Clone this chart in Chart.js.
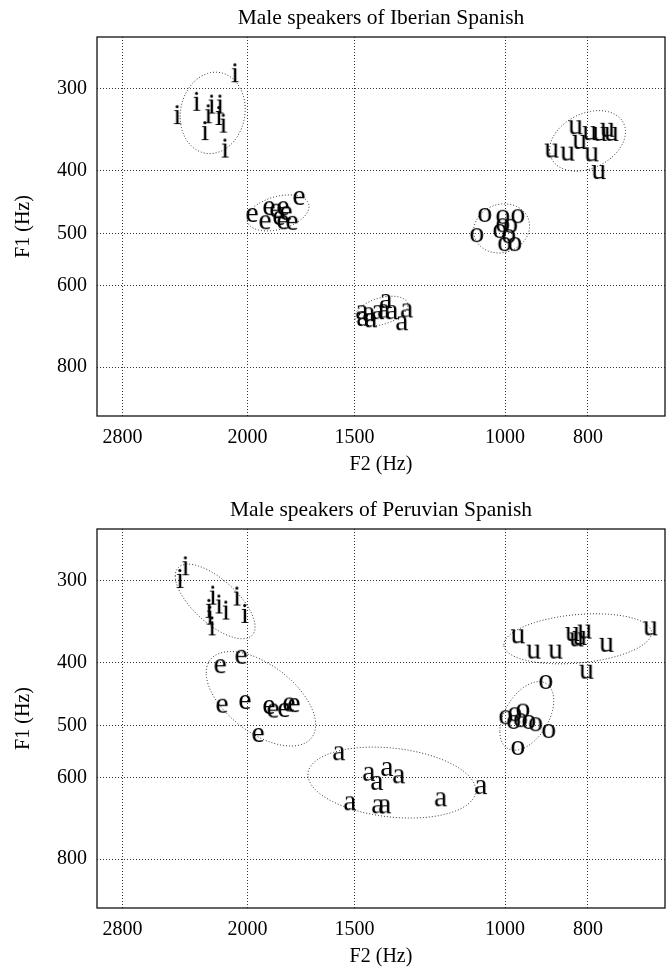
<!DOCTYPE html>
<html>
<head>
<meta charset="utf-8">
<script src="https://cdn.jsdelivr.net/npm/chart.js@4.4.1/dist/chart.umd.min.js"></script>
<style>
    html, body { margin: 0; padding: 0; background: #fff; }
    .panel { position: absolute; left: 0; width: 667px; height: 477px; }
    #top { top: 0; }
    #bottom { top: 492px; }
</style>
</head>
<body>
<div class="panel" id="top"><canvas id="iberian" width="667" height="477"></canvas></div>
<div class="panel" id="bottom"><canvas id="peruvian" width="667" height="477"></canvas></div>
<script>
const vowels = ['i', 'e', 'a', 'o', 'u'];
const f2Ticks = [2800, 2000, 1500, 1000, 800];
const f1Ticks = [300, 400, 500, 600, 800];

// Iberian Spanish (Hz)
const ibF2_i = [2068, 2293, 2416, 2202, 2153, 2222, 2160, 2134, 2242, 2124];
const ibF1_i = [283, 313, 328, 316, 316, 327, 329, 338, 347, 369];
const ibF2_e = [1976, 1888, 1908, 1818, 1838, 1803, 1818, 1774, 1741, 1853];
const ibF1_e = [463, 452, 475, 452, 468, 460, 475, 476, 436, 456];
const ibF2_a = [1470, 1466, 1435, 1408, 1378, 1386, 1356, 1303, 1320, 1443];
const ibF1_a = [652, 668, 671, 652, 627, 650, 652, 648, 678, 657];
const ibF2_o = [1056, 1079, 1006, 966, 1014, 985, 990, 1001, 974, 1006];
const ibF1_o = [463, 497, 466, 465, 490, 481, 499, 513, 513, 480];
const ibF2_u = [827, 882, 845, 818, 796, 775, 759, 751, 792, 777];
const ibF1_u = [340, 369, 373, 358, 347, 348, 343, 348, 374, 398];

// Peruvian Spanish (Hz)
const peF2_i = [2363, 2398, 2195, 2159, 2218, 2119, 2200, 2057, 2014, 2212];
const peF1_i = [284, 297, 315, 325, 330, 332, 351, 316, 336, 338];
const peF2_e = [2153, 2035, 2142, 2014, 1888, 1867, 1813, 1765, 1789, 1944];
const peF1_e = [401, 388, 461, 455, 463, 469, 468, 460, 459, 511];
const peF2_a = [1564, 1443, 1412, 1374, 1331, 1518, 1408, 1382, 1189, 1067];
const peF1_a = [545, 586, 605, 576, 591, 650, 657, 657, 641, 614];
const peF2_o = [896, 998, 974, 953, 959, 938, 921, 889, 966, 977];
const peF1_o = [424, 480, 475, 469, 485, 488, 492, 504, 535, 488];
const peF2_u = [966, 926, 873, 834, 825, 807, 818, 761, 676, 803];
const peF1_u = [361, 381, 381, 358, 365, 355, 363, 372, 351, 409];

// vowel ellipses: F2 range, F1 range, correlation of log F2 / log F1 (order i e a o u)
const ibEllF2lo = [2013, 1695, 1299, 936, 723];
const ibEllF2hi = [2398, 2003, 1498, 1088, 887];
const ibEllF1lo = [283, 436, 623, 450, 324];
const ibEllF1hi = [377, 495, 692, 535, 401];
const ibEllCorr = [0.09, 0.35, 0.4, 0.1, 0.3];

const peEllF2lo = [1960, 1665, 1082, 877, 674];
const peEllF2hi = [2430, 2236, 1700, 1014, 1003];
const peEllF1lo = [283, 385, 539, 428, 337];
const peEllF1hi = [368, 537, 692, 545, 402];
const peEllCorr = [-0.68, -0.55, -0.22, 0.45, 0.24];

const serif = '"Liberation Serif", "Times New Roman", serif';

function letterImage(ch) {
    const c = document.createElement('canvas');
    c.width = 44;
    c.height = 48;
    const g = c.getContext('2d');
    g.font = '30px ' + serif;
    g.fillStyle = '#000';
    g.textAlign = 'center';
    g.textBaseline = 'alphabetic';
    g.fillText(ch, 22, 24 + 10);
    return c;
}
const letters = {};
vowels.forEach(v => letters[v] = letterImage(v));

const ellipsePlugin = {
    id: 'ellipses',
    beforeDatasetsDraw(chart, args, opts) {
        const {ctx, scales: {x, y}} = chart;
        const e = opts.sets;
        ctx.save();
        ctx.strokeStyle = '#333';
        ctx.lineWidth = 1;
        ctx.setLineDash([1, 2]);
        for (let k = 0; k < e.f2lo.length; k++) {
            const c2 = (Math.log(e.f2lo[k]) + Math.log(e.f2hi[k])) / 2;
            const h2 = (Math.log(e.f2hi[k]) - Math.log(e.f2lo[k])) / 2;
            const c1 = (Math.log(e.f1lo[k]) + Math.log(e.f1hi[k])) / 2;
            const h1 = (Math.log(e.f1hi[k]) - Math.log(e.f1lo[k])) / 2;
            const phi = Math.acos(e.corr[k]);
            ctx.beginPath();
            for (let s = 0; s <= 160; s++) {
                const t = s / 160 * Math.PI * 2;
                const px = x.getPixelForValue(Math.exp(c2 + h2 * Math.cos(t)));
                const py = y.getPixelForValue(Math.exp(c1 + h1 * Math.cos(t + phi)));
                if (s === 0) ctx.moveTo(px, py); else ctx.lineTo(px, py);
            }
            ctx.stroke();
        }
        ctx.restore();
    }
};

const framePlugin = {
    id: 'frame',
    afterDraw(chart) {
        const {ctx, chartArea: a} = chart;
        ctx.save();
        ctx.strokeStyle = '#111';
        ctx.lineWidth = 1.3;
        ctx.strokeRect(a.left, a.top, a.right - a.left, a.bottom - a.top);
        ctx.restore();
    }
};

function makePanel(id, title, f2s, f1s, ell) {
    const datasets = vowels.map((v, k) => ({
        label: v,
        data: f2s[k].map((f2, j) => ({x: f2, y: f1s[k][j]})),
        pointStyle: letters[v],
        pointRadius: 10,
        showLine: false
    }));
    const axisFont = {family: serif, size: 20};
    return new Chart(document.getElementById(id), {
        type: 'scatter',
        data: {datasets},
        plugins: [ellipsePlugin, framePlugin],
        options: {
            responsive: false,
            animation: false,
            events: [],
            layout: {autoPadding: false, padding: {left: 0, right: 2, top: 0, bottom: 0}},
            plugins: {
                legend: {display: false},
                tooltip: {enabled: false},
                title: {
                    display: true, text: title, fullSize: false, color: '#000',
                    font: {family: serif, size: 21.5, weight: 'normal'},
                    padding: {top: 5.5, bottom: 5.7}
                },
                ellipses: {sets: ell}
            },
            scales: {
                x: {
                    type: 'logarithmic', reverse: true, min: 650, max: 3000,
                    afterBuildTicks: s => { s.ticks = f2Ticks.map(v => ({value: v})); },
                    afterFit: s => { s.height = 61; s.paddingLeft = 0; s.paddingRight = 0; },
                    ticks: {callback: v => String(v), color: '#000', font: axisFont, padding: 10, maxRotation: 0, autoSkip: false},
                    grid: {color: '#333', drawTicks: false},
                    border: {display: false, dash: [1, 2]},
                    title: {display: true, text: 'F2 (Hz)', color: '#000', font: axisFont, padding: {top: 0, bottom: 0}}
                },
                y: {
                    type: 'logarithmic', reverse: true, min: 250, max: 950,
                    afterBuildTicks: s => { s.ticks = f1Ticks.map(v => ({value: v})); },
                    afterFit: s => { s.width = 97; s.paddingTop = 0; s.paddingBottom = 0; },
                    ticks: {callback: v => String(v), color: '#000', font: axisFont, padding: 10, autoSkip: false},
                    grid: {color: '#333', drawTicks: false},
                    border: {display: false, dash: [1, 2]},
                    title: {display: true, text: 'F1 (Hz)', color: '#000', font: axisFont, padding: {top: 12, bottom: 0}}
                }
            }
        }
    });
}

makePanel('iberian', 'Male speakers of Iberian Spanish',
    [ibF2_i, ibF2_e, ibF2_a, ibF2_o, ibF2_u],
    [ibF1_i, ibF1_e, ibF1_a, ibF1_o, ibF1_u],
    {f2lo: ibEllF2lo, f2hi: ibEllF2hi, f1lo: ibEllF1lo, f1hi: ibEllF1hi, corr: ibEllCorr});

makePanel('peruvian', 'Male speakers of Peruvian Spanish',
    [peF2_i, peF2_e, peF2_a, peF2_o, peF2_u],
    [peF1_i, peF1_e, peF1_a, peF1_o, peF1_u],
    {f2lo: peEllF2lo, f2hi: peEllF2hi, f1lo: peEllF1lo, f1hi: peEllF1hi, corr: peEllCorr});
</script>
</body>
</html>
